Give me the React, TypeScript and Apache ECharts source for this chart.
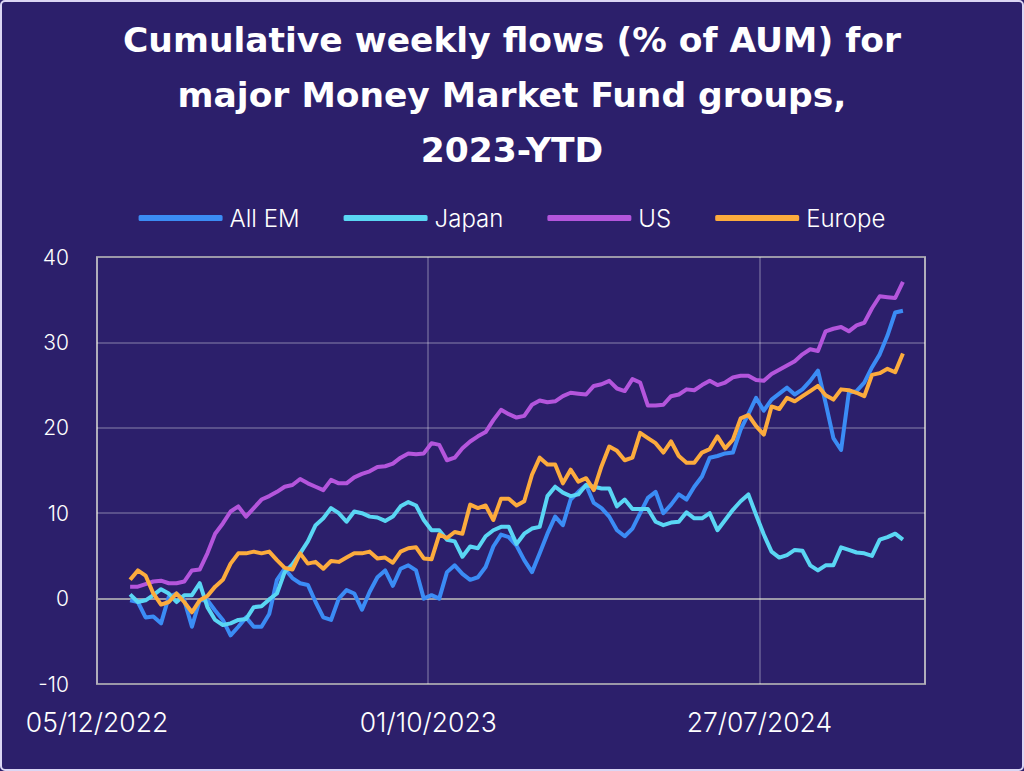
import React, { useEffect, useRef } from "react";
import * as echarts from "echarts";

const TITLE = "Cumulative weekly flows (% of AUM) for\nmajor Money Market Fund groups,\n2023-YTD";
const SERIES_NAMES = ["All EM", "Japan", "US", "Europe"];
const COLORS = ["#3b8cf5", "#5ad6f4", "#b455dc", "#fcab3d"];

// weekly observation dates: first week 04/01/2023, 101 weeks
const FIRST_WEEK = "2023-01-04";
const AXIS_START = "2022-12-05";

const allEM = [
  -0.2, -0.4, -2.2, -2.1, -2.9, 0.2, 0.6, -0.2, -3.3, -0.2,
  -0.2, -1.4, -2.5, -4.3, -3.3, -2.2, -3.3, -3.3, -1.8, 2.2,
  3.5, 2.4, 1.8, 1.6, -0.4, -2.2, -2.5, 0.0, 1.0, 0.6,
  -1.3, 0.8, 2.5, 3.3, 1.5, 3.5, 3.9, 3.3, 0.0, 0.4,
  0.0, 3.1, 3.9, 2.9, 2.2, 2.5, 3.7, 6.1, 7.5, 7.2,
  6.2, 4.5, 3.1, 5.3, 7.6, 9.6, 8.6, 11.6, 12.5, 13.3,
  11.2, 10.6, 9.6, 8.0, 7.3, 8.2, 10.0, 11.8, 12.5, 10.0,
  11.0, 12.2, 11.6, 13.1, 14.3, 16.5, 16.7, 17.0, 17.1, 19.8,
  21.6, 23.5, 22.0, 23.3, 24.0, 24.7, 23.9, 24.5, 25.5, 26.7,
  22.9, 18.8, 17.4, 24.1, 24.3, 25.3, 27.1, 28.6, 30.8, 33.5,
  33.7,
];

const japan = [
  0.5, -0.4, -0.2, 0.4, 1.1, 0.6, -0.4, 0.4, 0.4, 1.8,
  -1.0, -2.5, -3.1, -2.9, -2.5, -2.4, -1.0, -0.9, -0.1, 0.6,
  3.1, 4.0, 5.3, 6.7, 8.6, 9.4, 10.6, 10.0, 9.0, 10.2,
  10.0, 9.6, 9.5, 9.1, 9.6, 10.8, 11.3, 10.9, 9.2, 8.0,
  8.0, 6.9, 6.7, 4.9, 6.1, 5.9, 7.3, 8.0, 8.4, 8.4,
  6.4, 7.6, 8.2, 8.4, 12.0, 13.1, 12.4, 12.0, 12.2, 13.3,
  13.1, 12.9, 12.9, 10.8, 11.6, 10.5, 10.5, 10.5, 9.0, 8.6,
  8.9, 9.0, 10.1, 9.4, 9.4, 10.0, 8.0, 9.2, 10.4, 11.4,
  12.2, 9.8, 7.5, 5.5, 4.8, 5.1, 5.7, 5.6, 3.9, 3.3,
  3.9, 3.9, 6.0, 5.7, 5.4, 5.3, 5.0, 6.9, 7.2, 7.6,
  6.9,
];

const us = [
  1.4, 1.4, 1.7, 2.0, 2.1, 1.8, 1.8, 2.0, 3.3, 3.4,
  5.3, 7.6, 8.8, 10.2, 10.8, 9.6, 10.6, 11.6, 12.0, 12.5,
  13.1, 13.3, 14.0, 13.5, 13.1, 12.7, 13.9, 13.5, 13.5, 14.2,
  14.6, 14.9, 15.4, 15.5, 15.8, 16.5, 17.0, 16.9, 17.0, 18.2,
  18.0, 16.2, 16.5, 17.6, 18.4, 19.0, 19.5, 20.9, 22.1, 21.6,
  21.2, 21.4, 22.7, 23.2, 23.0, 23.1, 23.7, 24.1, 24.0, 23.9,
  24.9, 25.1, 25.5, 24.6, 24.3, 25.7, 25.3, 22.6, 22.6, 22.7,
  23.7, 23.9, 24.5, 24.4, 25.0, 25.5, 25.0, 25.3, 25.9, 26.1,
  26.1, 25.6, 25.5, 26.3, 26.8, 27.3, 27.8, 28.6, 29.2, 29.0,
  31.3, 31.6, 31.8, 31.3, 32.0, 32.3, 34.0, 35.4, 35.3, 35.2,
  37.1,
];

const europe = [
  2.2, 3.3, 2.7, 0.6, -0.7, -0.4, 0.6, -0.4, -1.6, -0.2,
  0.3, 1.4, 2.2, 4.1, 5.3, 5.3, 5.5, 5.3, 5.5, 4.5,
  3.6, 3.4, 5.3, 4.1, 4.3, 3.5, 4.4, 4.3, 4.8, 5.3,
  5.3, 5.5, 4.7, 4.8, 4.2, 5.5, 5.9, 6.0, 4.7, 4.6,
  7.5, 7.1, 7.8, 7.6, 11.0, 10.6, 10.9, 9.2, 11.7, 11.7,
  10.9, 11.4, 14.5, 16.5, 15.7, 15.7, 13.5, 15.1, 13.7, 14.1,
  12.7, 15.5, 17.8, 17.3, 16.2, 16.5, 19.4, 18.8, 18.2, 17.1,
  18.4, 16.7, 15.9, 15.9, 17.1, 17.5, 19.0, 17.6, 18.6, 21.1,
  21.5, 20.2, 19.2, 22.5, 22.2, 23.5, 23.1, 23.7, 24.3, 24.9,
  23.8, 23.3, 24.5, 24.4, 24.1, 23.7, 26.2, 26.4, 26.9, 26.5,
  28.7,
];

const SERIES_VALUES = [allEM, japan, us, europe];

const DAY_MS = 86400000;
const X_SPAN_DAYS = 750;
const X_TICK_DAYS = 300;
const Y_MIN = -10;
const Y_MAX = 40;
const Y_STEP = 10;

const pad = (n: number) => (n < 10 ? "0" + n : "" + n);

export default function App() {
  const ref = useRef<HTMLDivElement>(null);

  useEffect(() => {
    document.body.style.margin = "0";
    if (!ref.current) return;
    const chart = echarts.init(ref.current, undefined, { renderer: "svg" });

    const axisStart = Date.parse(AXIS_START + "T00:00:00Z");
    const firstWeek = Date.parse(FIRST_WEEK + "T00:00:00Z");
    const n = us.length;
    const weekDays: number[] = [];
    for (let i = 0; i < n; i++) {
      weekDays.push((firstWeek - axisStart) / DAY_MS + 7 * i);
    }

    const fmtDay = (d: number) => {
      const dt = new Date(axisStart + d * DAY_MS);
      return pad(dt.getUTCDate()) + "/" + pad(dt.getUTCMonth() + 1) + "/" + dt.getUTCFullYear();
    };

    const faint = "rgba(255,255,255,0.22)";
    const solid = "#9b98a8";

    chart.setOption({
      animation: false,
      backgroundColor: "#2c1f6b",
      textStyle: { fontFamily: "Inter" },
      title: {
        text: TITLE,
        left: "center",
        top: 7,
        textStyle: {
          color: "#ffffff",
          fontSize: 34.5,
          fontWeight: 700,
          fontFamily: "DejaVu Sans",
          lineHeight: 55,
        },
      },
      legend: {
        top: 201,
        left: "center",
        itemWidth: 84,
        itemHeight: 6,
        itemGap: 44,
        icon: "roundRect",
        textStyle: { color: "#ffffff", fontSize: 24, fontFamily: "Inter", fontWeight: 300, padding: [0, 0, 0, 2] },
        data: SERIES_NAMES,
      },
      grid: {
        left: 97,
        right: 99,
        top: 257,
        bottom: 87,
        show: true,
        borderColor: solid,
        borderWidth: 2,
        backgroundColor: "transparent",
      },
      xAxis: {
        type: "value",
        min: 0,
        max: X_SPAN_DAYS,
        interval: X_TICK_DAYS,
        axisLine: { show: false, onZero: false },
        axisTick: { show: false },
        axisLabel: {
          color: "#ffffff",
          fontSize: 26.5,
          fontFamily: "Inter",
          fontWeight: 300,
          margin: 24,
          showMaxLabel: false,
          formatter: (v: number) => fmtDay(v),
        },
        splitLine: { show: true, lineStyle: { color: faint, width: 2 } },
      },
      yAxis: {
        type: "value",
        min: Y_MIN,
        max: Y_MAX,
        interval: Y_STEP,
        axisLine: { show: false },
        axisTick: { show: false },
        axisLabel: { color: "#ffffff", fontSize: 21, fontFamily: "Inter", fontWeight: 300, margin: 28 },
        splitLine: {
          show: true,
          lineStyle: { color: [solid, solid, faint, faint, faint, solid], width: 2 },
        },
      },
      graphic: [
        {
          type: "rect",
          shape: { x: 1, y: 1, width: 1022, height: 769, r: 4 },
          style: { fill: "none", stroke: "#dcd6f4", lineWidth: 2 },
          silent: true,
        },
      ],
      series: SERIES_NAMES.map((name, k) => ({
        name,
        type: "line",
        showSymbol: false,
        symbol: "none",
        color: COLORS[k],
        lineStyle: { width: 4, color: COLORS[k], join: "round" },
        data: SERIES_VALUES[k].map((v, i) => [weekDays[i], v]),
      })),
    });

    return () => chart.dispose();
  }, []);

  return <div ref={ref} style={{ width: 1024, height: 771 }} />;
}
